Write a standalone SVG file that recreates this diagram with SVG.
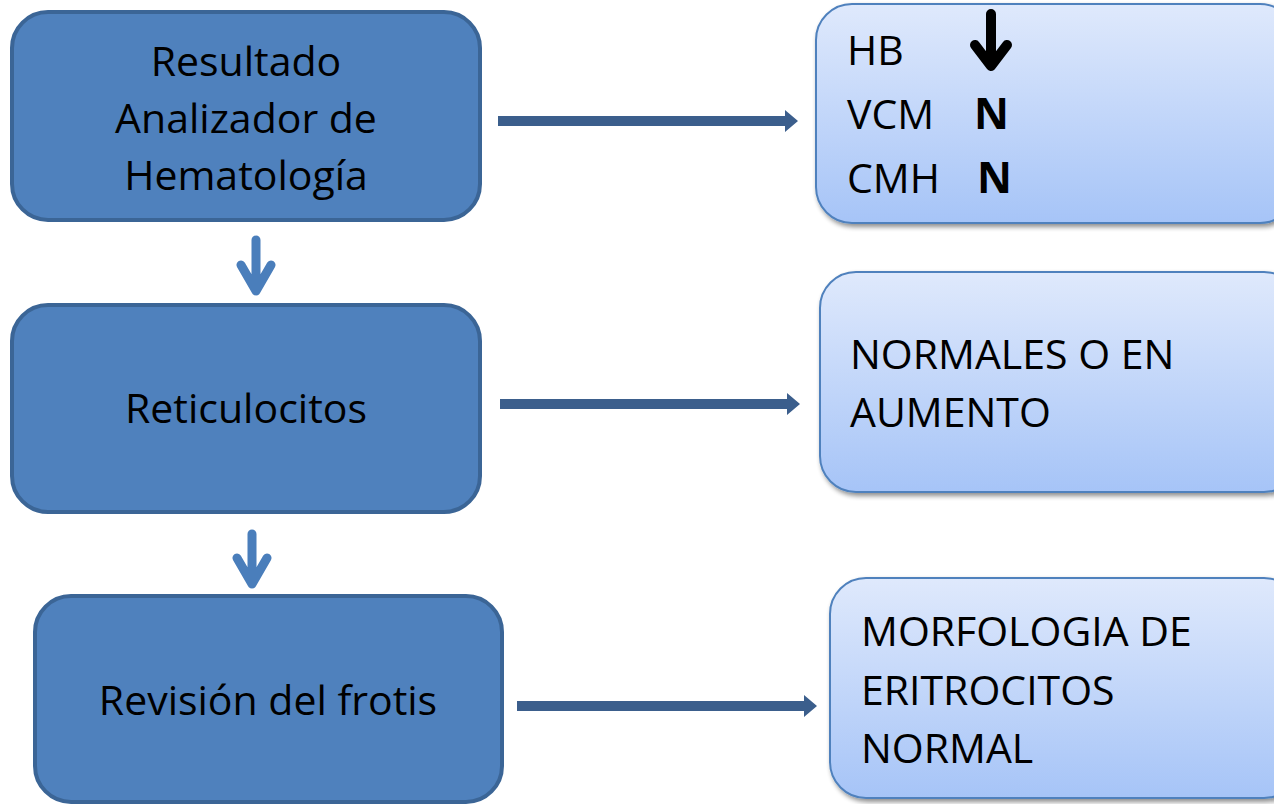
<svg xmlns="http://www.w3.org/2000/svg" width="1274" height="804" viewBox="0 0 1274 804">
<defs>
<linearGradient id="lg" x1="0" y1="0" x2="0" y2="1">
<stop offset="0" stop-color="#dfe9fc"/>
<stop offset="1" stop-color="#a6c4f7"/>
</linearGradient>
<filter id="sh" x="-10%" y="-10%" width="130%" height="130%">
<feGaussianBlur in="SourceAlpha" stdDeviation="2.5"/>
<feOffset dx="2" dy="3" result="b"/>
<feComponentTransfer><feFuncA type="linear" slope="0.45"/></feComponentTransfer>
<feMerge><feMergeNode/><feMergeNode in="SourceGraphic"/></feMerge>
</filter>
</defs>
<style>
.lb{fill:#4f81bd;stroke:#3b6596;stroke-width:4}
.rb{fill:url(#lg);stroke:#4f81bd;stroke-width:2;filter:url(#sh)}
.t{font-family:"Open Sans","Liberation Sans",sans-serif;font-size:41px;fill:#000}
.tb{font-family:"Open Sans","Liberation Sans",sans-serif;font-size:43px;font-weight:bold;fill:#000}
.ha{fill:#3b5e8c}
.va{fill:none;stroke:#4a7ebb;stroke-width:9;stroke-linecap:round;stroke-linejoin:round}
</style>
<rect width="1274" height="804" fill="#fff"/>
<g id="n1"><rect class="lb" x="12" y="12" width="468" height="208" rx="36"/>
<text class="t" text-anchor="middle" x="246" y="76">Resultado</text>
<text class="t" text-anchor="middle" x="246" y="133">Analizador de</text>
<text class="t" text-anchor="middle" x="246" y="190">Hematología</text></g>
<g id="n2"><rect class="lb" x="12" y="305" width="468" height="207" rx="36"/>
<text class="t" text-anchor="middle" x="246" y="423">Reticulocitos</text></g>
<g id="n3"><rect class="lb" x="35" y="596" width="467" height="206" rx="36"/>
<text class="t" text-anchor="middle" x="268" y="715">Revisión del frotis</text></g>
<g id="r1"><rect class="rb" x="816" y="4" width="480" height="219" rx="36"/>
<text class="t" x="847" y="65">HB</text>
<text class="t" x="847" y="129">VCM</text>
<text class="t" x="847" y="193">CMH</text>
<text class="tb" x="974" y="129">N</text>
<text class="tb" x="977" y="193">N</text>
<path d="M991 14 V65 M975 45 L991 66 L1007 45" fill="none" stroke="#000" stroke-width="10" stroke-linecap="round" stroke-linejoin="round"/></g>
<g id="r2"><rect class="rb" x="820" y="272" width="480" height="220" rx="36"/>
<text class="t" x="850" y="369">NORMALES O EN</text>
<text class="t" x="850" y="427">AUMENTO</text></g>
<g id="r3"><rect class="rb" x="830" y="578" width="470" height="220" rx="36"/>
<text class="t" x="861" y="646">MORFOLOGIA DE</text>
<text class="t" x="861" y="705">ERITROCITOS</text>
<text class="t" x="861" y="763">NORMAL</text></g>
<g id="connectors">
<path class="ha" d="M498 116 H785 V110 L798 121 L785 132 V126 H498 Z"/>
<path class="ha" d="M500 399 H787 V393 L800 404 L787 415 V409 H500 Z"/>
<path class="ha" d="M517 701 H804 V695 L817 706 L804 717 V711 H517 Z"/>
<path class="va" d="M256 240 V291 M241 265 L256 291 L271 265"/>
<path class="va" d="M252 534 V584 M237 558 L252 584 L267 558"/>
</g>
</svg>
